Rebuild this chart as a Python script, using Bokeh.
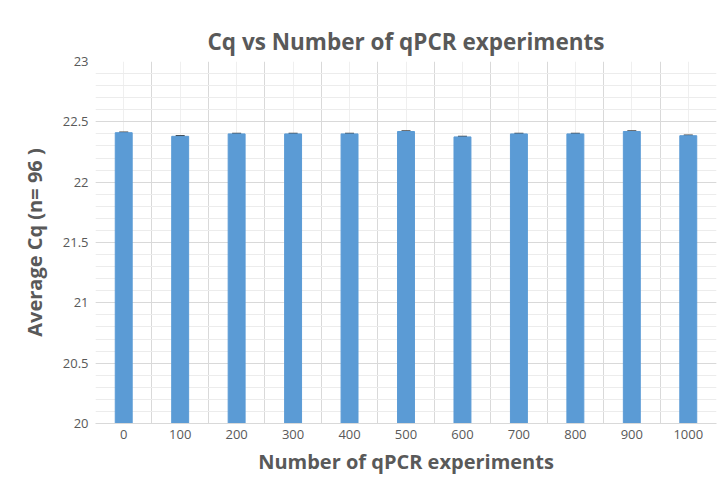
from bokeh.plotting import figure
from bokeh.models import (ColumnDataSource, FixedTicker, SingleIntervalTicker, Range1d,
                          Whisker, TeeHead, Title)
from bokeh.embed import file_html
from bokeh.resources import INLINE

# data
categories = ["0", "100", "200", "300", "400", "500", "600", "700", "800", "900", "1000"]
avg_cq = [22.41, 22.38, 22.40, 22.40, 22.40, 22.42, 22.375, 22.40, 22.40, 22.42, 22.385]
err = [0.004, 0.004, 0.004, 0.004, 0.004, 0.004, 0.004, 0.004, 0.004, 0.004, 0.004]
y_ticks = [20, 20.5, 21, 21.5, 22, 22.5, 23]

FONT = "Open Sans"
TXT = "#595959"

pos = [i + 0.5 for i in range(len(categories))]
src = ColumnDataSource(dict(
    x=pos, top=avg_cq,
    upper=[v + e for v, e in zip(avg_cq, err)],
    lower=[v - e for v, e in zip(avg_cq, err)],
))

p = figure(width=721, height=480, output_backend="svg", toolbar_location=None,
           x_range=Range1d(0, len(categories)), y_range=Range1d(20, 23),
           min_border_left=95, min_border_right=5, min_border_top=61, min_border_bottom=57,
           background_fill_color="white", border_fill_color="white")
p.outline_line_color = None

title = Title(text="Cq vs Number of qPCR experiments", align="center",
              text_font=FONT, text_font_size="22.5px", text_font_style="bold",
              text_color=TXT, standoff=10)
p.add_layout(title, "above")

p.vbar(x="x", top="top", bottom=20, width=0.3, source=src,
       fill_color="#5b9bd5", line_color="#5b9bd5")

w = Whisker(base="x", upper="upper", lower="lower", source=src,
            line_color="#404040", line_width=1.5,
            upper_head=TeeHead(size=9, line_color="#404040", line_width=1.5),
            lower_head=TeeHead(size=9, line_color="#404040", line_width=1.5))
p.add_layout(w)

# x axis
p.xaxis.ticker = FixedTicker(ticks=pos)
p.xaxis.major_label_overrides = {pv: c for pv, c in zip(pos, categories)}
p.xaxis.axis_label = "Number of qPCR experiments"
p.xaxis.axis_line_color = "#d9d9d9"
p.xaxis.major_label_standoff = 6
p.xaxis.axis_label_standoff = 6

# y axis
p.yaxis.ticker = SingleIntervalTicker(interval=0.5, num_minor_ticks=5)
p.yaxis.axis_label = "Average Cq (n= 96 )"
p.yaxis.axis_line_color = None
p.yaxis.major_label_standoff = 7
p.yaxis.axis_label_standoff = 12

for ax in (p.xaxis, p.yaxis):
    ax.major_tick_line_color = None
    ax.minor_tick_line_color = None
    ax.major_tick_out = 0
    ax.major_tick_in = 0
    ax.minor_tick_out = 0
    ax.minor_tick_in = 0
    ax.major_label_text_font = FONT
    ax.major_label_text_font_size = "13px"
    ax.major_label_text_color = TXT
    ax.axis_label_text_font = FONT
    ax.axis_label_text_font_size = "20px"
    ax.axis_label_text_font_style = "bold"
    ax.axis_label_text_color = TXT

# grids
p.xgrid.ticker = FixedTicker(ticks=list(range(len(categories) + 1)), minor_ticks=pos)
p.xgrid.grid_line_color = "#d9d9d9"
p.xgrid.minor_grid_line_color = "#efefef"
p.ygrid.grid_line_color = "#d9d9d9"
p.ygrid.minor_grid_line_color = "#ececec"

open("out.html", "w").write(file_html(p, INLINE))
